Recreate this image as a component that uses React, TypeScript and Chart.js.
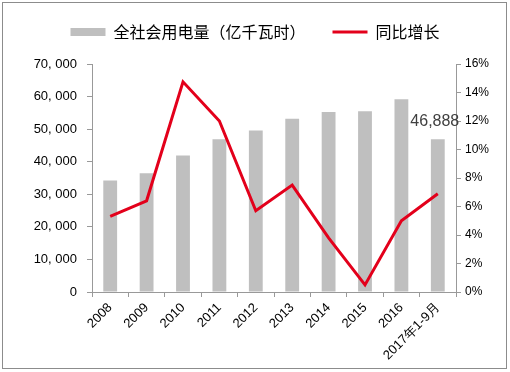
import React, { useEffect, useRef } from "react";
import { Chart, registerables } from "chart.js";

Chart.register(...registerables);

const categories = ["2008", "2009", "2010", "2011", "2012", "2013", "2014", "2015", "2016", "2017年1-9月"];
const consumption = [34268, 36430, 41923, 46928, 49591, 53223, 55233, 55500, 59198, 46888];
const growth = [5.3, 6.4, 14.75, 12.0, 5.7, 7.5, 3.8, 0.5, 5.0, 6.9];
const barLabel = "全社会用电量（亿千瓦时）";
const lineLabel = "同比增长";
const lastBarText = "46,888";

const FONT = "'Liberation Sans', Arial, sans-serif";
const CJK = "'Noto Sans CJK SC', sans-serif";

export default function App() {
  const ref = useRef<HTMLCanvasElement | null>(null);

  useEffect(() => {
    if (!ref.current) return;
    const valueLabel = {
      id: "valueLabel",
      afterDatasetsDraw(chart: any) {
        const meta = chart.getDatasetMeta(1);
        const el = meta.data[meta.data.length - 1];
        if (!el) return;
        const ctx = chart.ctx;
        ctx.save();
        ctx.font = `16px ${FONT}`;
        ctx.fillStyle = "#404040";
        ctx.textAlign = "center";
        ctx.textBaseline = "middle";
        ctx.fillText(lastBarText, el.x - 3, el.y - 18);
        ctx.restore();
      },
    };
    const legendSpace = {
      id: "legendSpace",
      beforeInit(chart: any) {
        const legend = chart.legend;
        if (!legend) return;
        const orig = legend.fit;
        legend.fit = function () {
          orig.call(this);
          this.height += 14;
        };
      },
    };
    const chart = new Chart(ref.current, {
      type: "bar",
      data: {
        labels: categories,
        datasets: [
          {
            type: "line",
            label: lineLabel,
            data: growth,
            yAxisID: "y1",
            borderColor: "#e3001b",
            backgroundColor: "#e3001b",
            borderWidth: 3,
            pointRadius: 0,
            tension: 0,
          } as any,
          {
            type: "bar",
            label: barLabel,
            data: consumption,
            yAxisID: "y",
            backgroundColor: "#bfbfbf",
            barPercentage: 0.38,
            categoryPercentage: 1,
          },
        ],
      },
      options: {
        responsive: false,
        animation: false,
        layout: { padding: { top: -3, left: 0, right: 0, bottom: 0 } },
        plugins: {
          tooltip: { enabled: false },
          legend: {
            position: "top",
            labels: {
              usePointStyle: true,
              pointStyleWidth: 35,
              boxHeight: 8,
              padding: 27,
              color: "#000",
              font: { family: CJK, size: 16 },
              generateLabels: () => [
                {
                  text: barLabel,
                  fillStyle: "#bfbfbf",
                  strokeStyle: "#bfbfbf",
                  lineWidth: 0,
                  pointStyle: "rect",
                  datasetIndex: 1,
                  fontColor: "#000",
                } as any,
                {
                  text: lineLabel,
                  fillStyle: "#e3001b",
                  strokeStyle: "#e3001b",
                  lineWidth: 3,
                  pointStyle: "line",
                  datasetIndex: 0,
                  fontColor: "#000",
                } as any,
              ],
            },
          },
        },
        scales: {
          x: {
            offset: true,
            border: { color: "#999", width: 1 },
            grid: { display: true, drawOnChartArea: false, offset: true, tickLength: 5, color: "#999" },
            ticks: {
              color: "#000",
              font: { family: FONT, size: 13 },
              maxRotation: 45,
              minRotation: 45,
              autoSkip: false,
            },
            afterFit: (s: any) => {
              s.height = 80;
            },
          },
          y: {
            position: "left",
            min: 0,
            max: 70000,
            border: { color: "#999", width: 1 },
            grid: { display: true, drawOnChartArea: false, tickLength: 5, color: "#999" },
            ticks: {
              stepSize: 10000,
              color: "#000",
              font: { family: FONT, size: 13 },
              padding: 10,
              callback: (v: any) => {
                const n = Number(v);
                if (n === 0) return "0";
                const s = n.toLocaleString("en-US");
                return s.replace(",", ", ");
              },
            },
            afterFit: (s: any) => {
              s.width = 92;
            },
          },
          y1: {
            position: "right",
            min: 0,
            max: 16,
            border: { color: "#999", width: 1 },
            grid: { display: true, drawOnChartArea: false, tickLength: 5, color: "#999" },
            ticks: {
              stepSize: 2,
              color: "#000",
              font: { family: FONT, size: 12 },
              padding: 4,
              callback: (v: any) => `${v}%`,
            },
            afterFit: (s: any) => {
              s.width = 54;
            },
          },
        },
      },
      plugins: [legendSpace, valueLabel],
    });
    return () => chart.destroy();
  }, []);

  return (
    <div style={{ position: "fixed", left: 0, top: 0, width: 510, height: 372, background: "#fff" }}>
      <div
        style={{
          position: "absolute",
          left: 2,
          top: 2,
          width: 505,
          height: 367,
          border: "1px solid #8c8c8c",
          boxSizing: "border-box",
        }}
      />
      <canvas ref={ref} width={510} height={372} style={{ position: "absolute", left: 0, top: 0 }} />
    </div>
  );
}
